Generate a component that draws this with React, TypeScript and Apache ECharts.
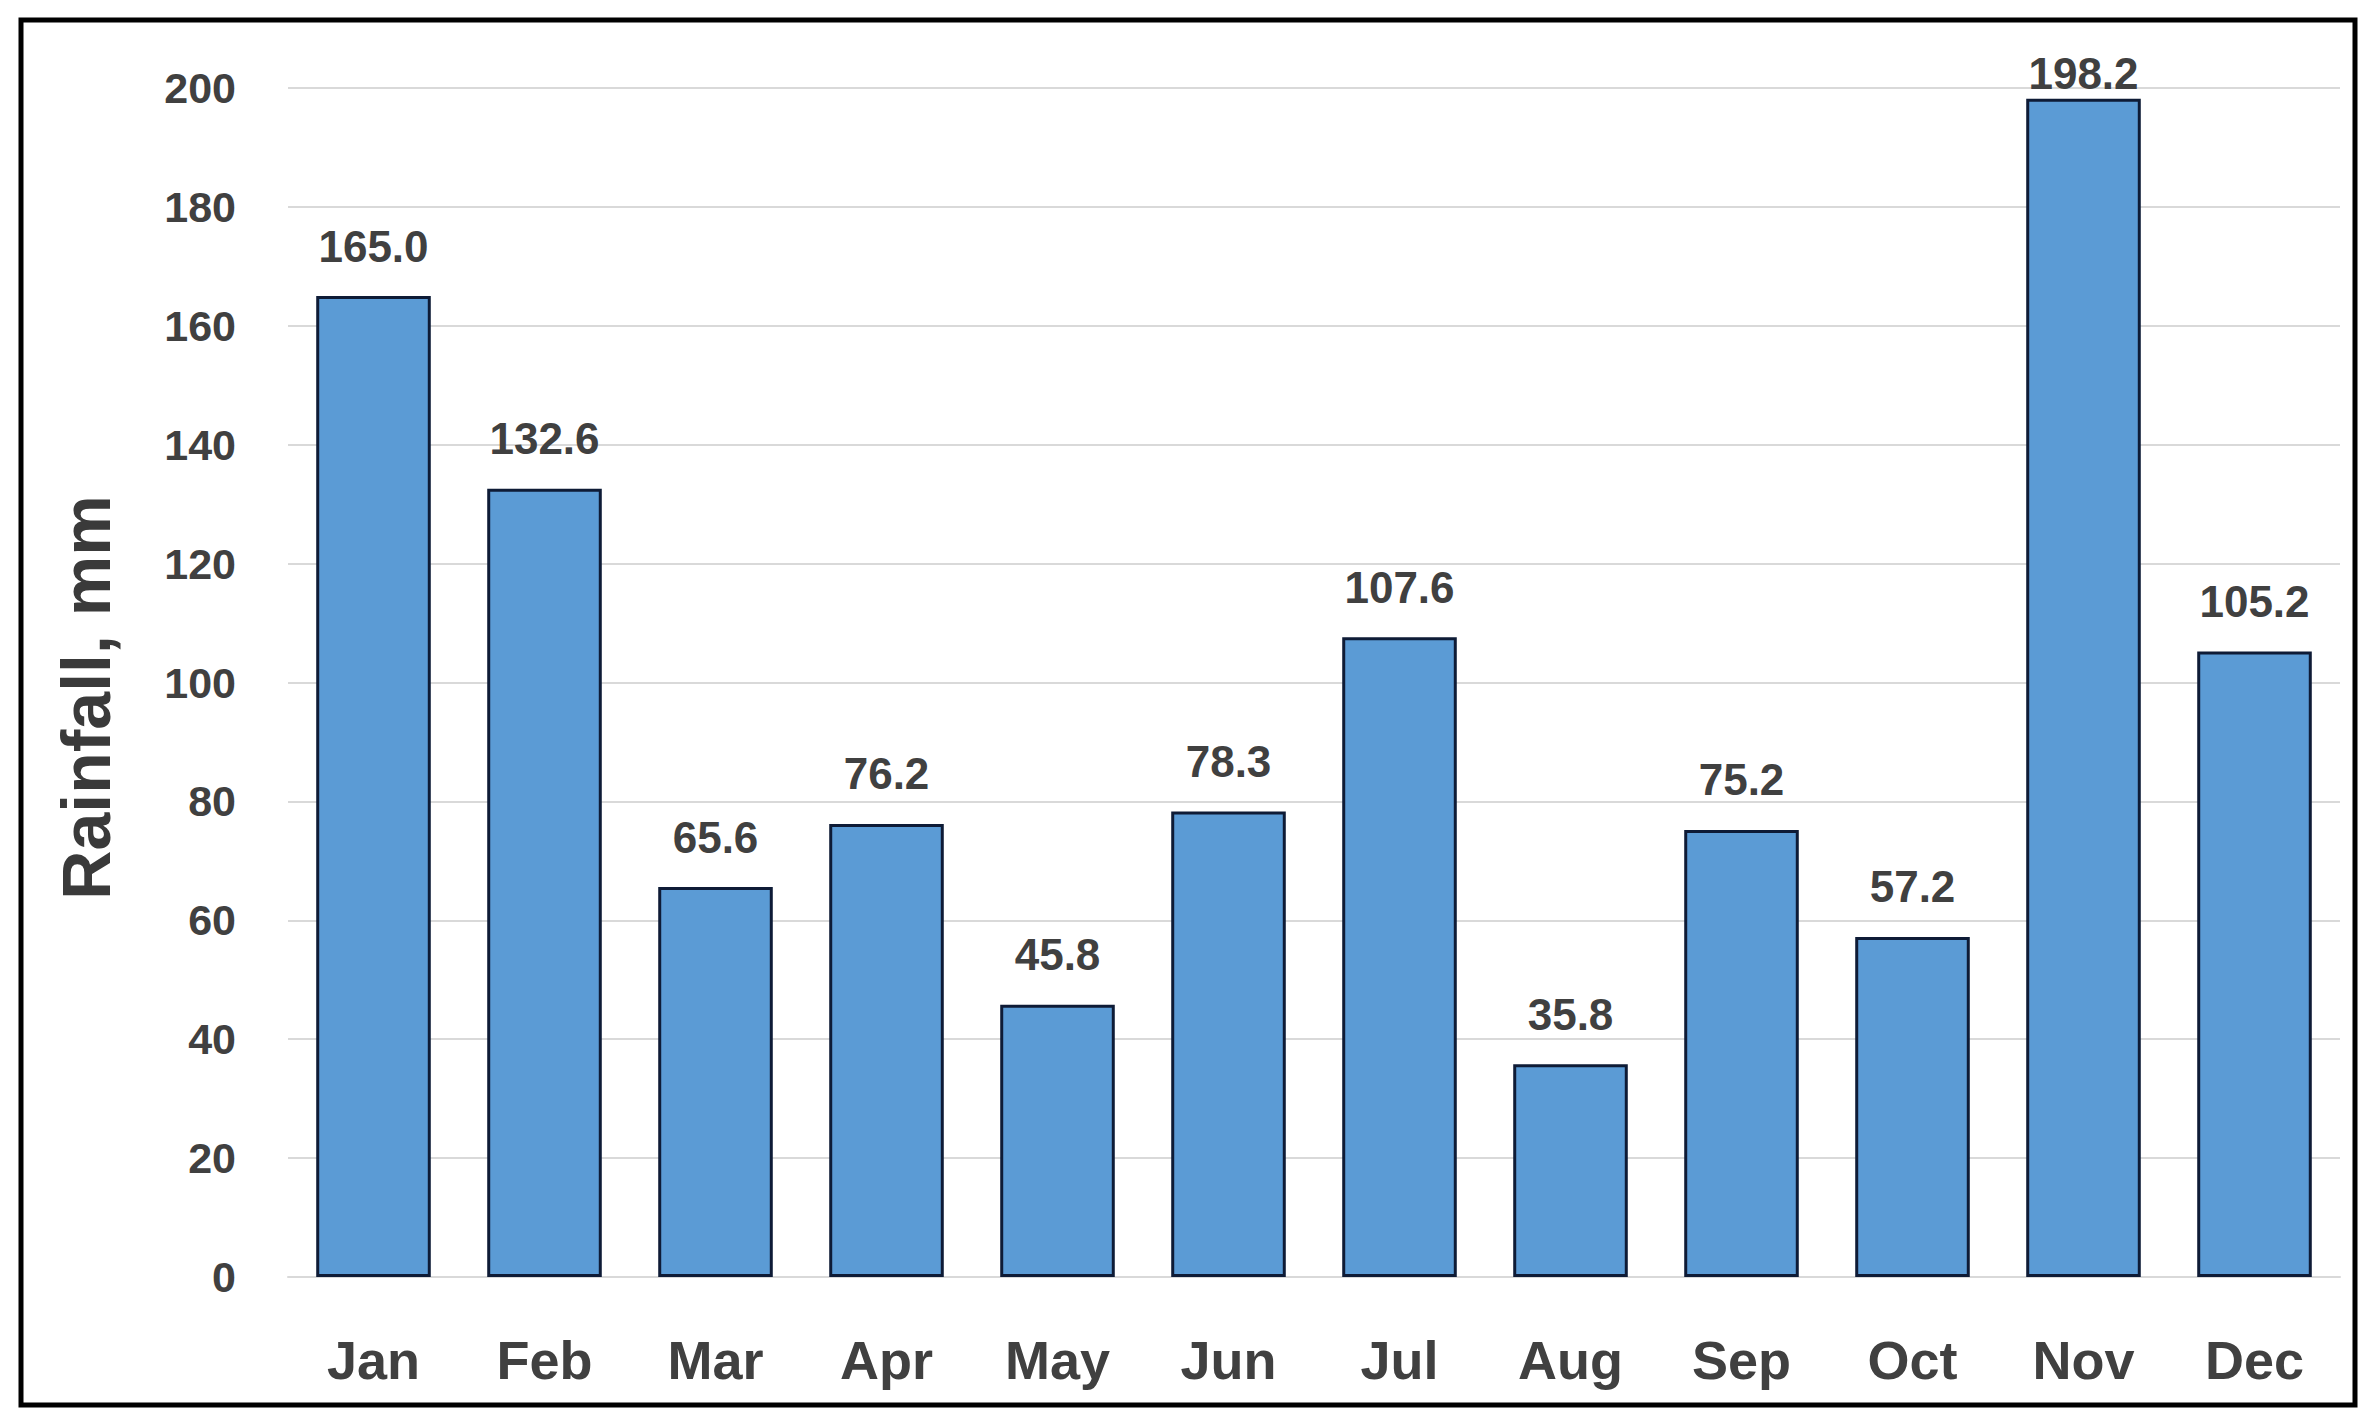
import React, { useEffect, useRef } from "react";
import * as echarts from "echarts";

const months = ["Jan", "Feb", "Mar", "Apr", "May", "Jun", "Jul", "Aug", "Sep", "Oct", "Nov", "Dec"];
const rainfall = [165.0, 132.6, 65.6, 76.2, 45.8, 78.3, 107.6, 35.8, 75.2, 57.2, 198.2, 105.2];
const yTicks = { min: 0, max: 200, interval: 20 };
const yTitle = "Rainfall, mm";

const W = 2376;
const H = 1424;
const TEXT = "#404040";
const FONT = "'Liberation Sans', Arial, sans-serif";

export default function App() {
  const ref = useRef<HTMLDivElement>(null);
  useEffect(() => {
    if (!ref.current) return;
    const chart = echarts.init(ref.current, undefined, { renderer: "svg", width: W, height: H });
    const maxIdx = rainfall.indexOf(Math.max(...rainfall));
    const data = rainfall.map((v, i) =>
      i === maxIdx ? { value: v, label: { distance: 3 } } : { value: v }
    );
    chart.setOption({
      animation: false,
      backgroundColor: "#ffffff",
      grid: { left: 288, right: 36, top: 88, bottom: 147, containLabel: false },
      graphic: [
        {
          type: "rect",
          shape: { x: 21, y: 20, width: 2334, height: 1385 },
          style: { fill: "none", stroke: "#000000", lineWidth: 5 },
          z: 100,
        },
      ],
      xAxis: {
        type: "category",
        data: months,
        axisLine: { show: true, lineStyle: { color: "#d9d9d9", width: 2 } },
        axisTick: { show: false },
        axisLabel: {
          color: TEXT,
          fontFamily: FONT,
          fontWeight: "bold",
          fontSize: 54,
          margin: 56,
        },
      },
      yAxis: {
        type: "value",
        min: yTicks.min,
        max: yTicks.max,
        interval: yTicks.interval,
        name: yTitle,
        nameLocation: "middle",
        nameGap: 168,
        nameRotate: 90,
        nameTextStyle: {
          color: "#3a3a3a",
          fontFamily: FONT,
          fontWeight: "bold",
          fontSize: 68,
          padding: [0, 30, 0, 0],
        },
        axisLine: { show: false },
        axisTick: { show: false },
        splitLine: { show: true, lineStyle: { color: "#d9d9d9", width: 2 } },
        axisLabel: {
          color: TEXT,
          fontFamily: FONT,
          fontWeight: "bold",
          fontSize: 43,
          margin: 52,
        },
      },
      series: [
        {
          type: "bar",
          data,
          barCategoryGap: "33%",
          itemStyle: { color: "#5B9BD5", borderColor: "#0e1b36", borderWidth: 3 },
          label: {
            show: true,
            position: "top",
            distance: 28,
            color: TEXT,
            fontFamily: FONT,
            fontWeight: "bold",
            fontSize: 44,
            formatter: (p: any) => Number(p.value).toFixed(1),
          },
        },
      ],
    });
    return () => chart.dispose();
  }, []);
  return (
    <div
      ref={ref}
      style={{ position: "absolute", left: 0, top: 0, width: W, height: H, background: "#fff" }}
    />
  );
}
